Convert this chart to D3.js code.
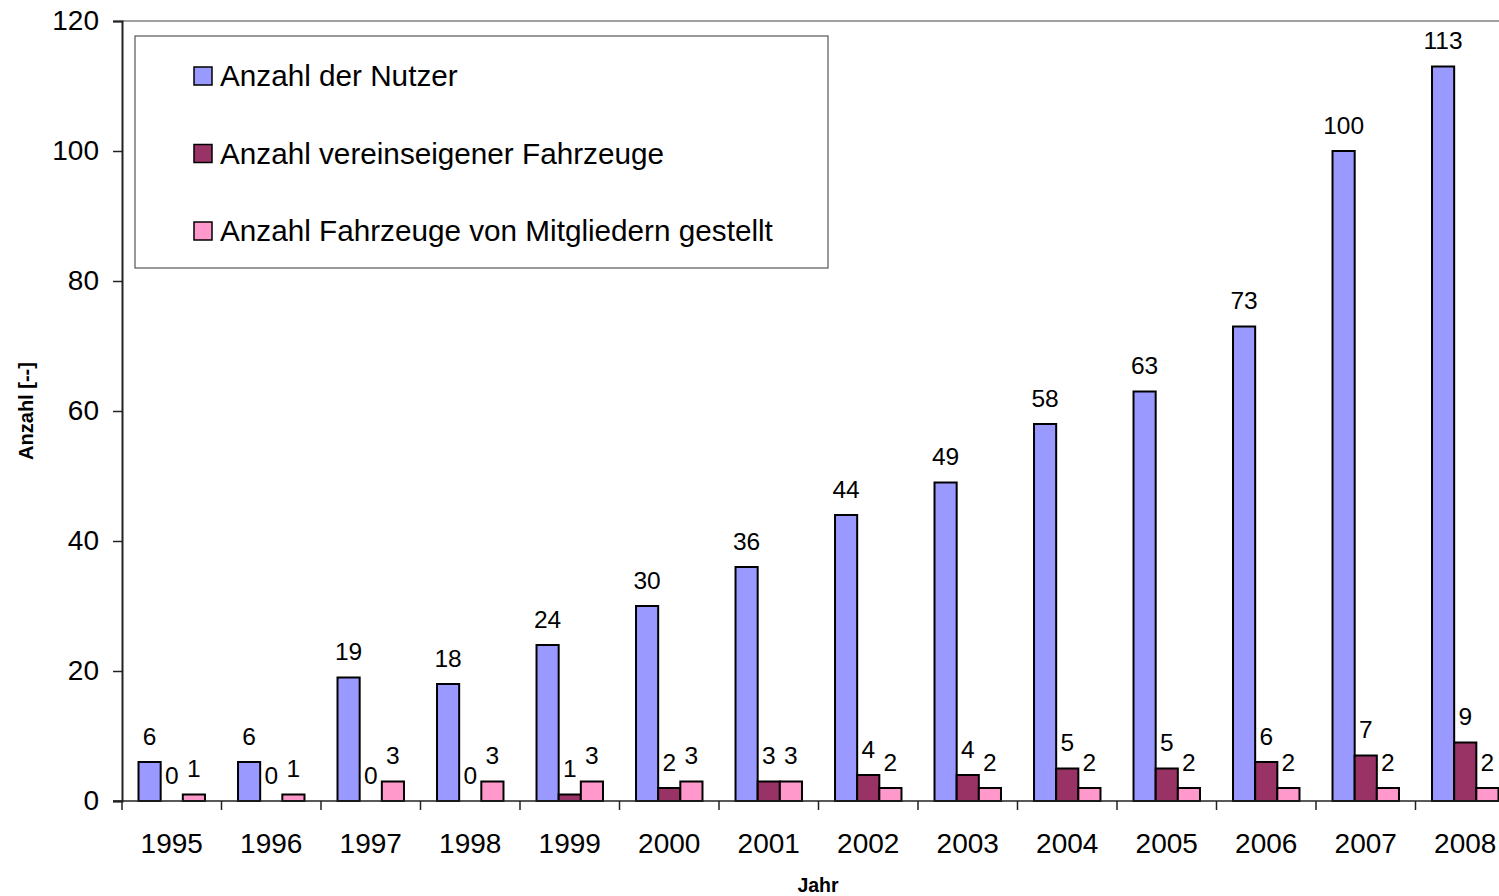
<!DOCTYPE html>
<html>
<head>
<meta charset="utf-8">
<script src="https://cdn.jsdelivr.net/npm/d3@7"></script>
<style>
  body { margin: 0; background: #fff; }
  svg { display: block; font-family: Arial, "Liberation Sans", sans-serif; }
</style>
</head>
<body>
<div id="chart"></div>
<script>
// data
var years = ['1995','1996','1997','1998','1999','2000','2001','2002','2003','2004','2005','2006','2007','2008'];
var nutzer = [6, 6, 19, 18, 24, 30, 36, 44, 49, 58, 63, 73, 100, 113];
var vereinsFahrzeuge = [0, 0, 0, 0, 1, 2, 3, 4, 4, 5, 5, 6, 7, 9];
var mitgliederFahrzeuge = [1, 1, 3, 3, 3, 3, 3, 2, 2, 2, 2, 2, 2, 2];
var seriesNames = ['Anzahl der Nutzer', 'Anzahl vereinseigener Fahrzeuge', 'Anzahl Fahrzeuge von Mitgliedern gestellt'];
var seriesColors = ['#9999FF', '#993366', '#FF99CC'];
var yTicks = [0, 20, 40, 60, 80, 100, 120];

var width = 1499, height = 896;
// plot area (runs a bit past the window on the right, like the original)
var plotLeft = 122, plotTop = 21, plotBottom = 801, plotRight = 1515;

var svg = d3.select('#chart').append('svg')
  .attr('width', width)
  .attr('height', height);

var series = [nutzer, vereinsFahrzeuge, mitgliederFahrzeuge];

// scales
var x0 = d3.scaleBand()
  .domain(years)
  .range([plotLeft, plotRight])
  .paddingInner(0.332)
  .paddingOuter(0.166);

var x1 = d3.scaleBand()
  .domain([0, 1, 2])
  .range([0, x0.bandwidth()]);

var y = d3.scaleLinear()
  .domain([0, 120])
  .range([plotBottom, plotTop]);

// top border of plot area
svg.append('line')
  .attr('x1', plotLeft).attr('x2', width)
  .attr('y1', y(120)).attr('y2', y(120))
  .attr('stroke', '#808080').attr('stroke-width', 1.5);

// bars
var groups = svg.append('g').selectAll('g')
  .data(years)
  .enter()
  .append('g')
  .attr('transform', function(d){ return 'translate(' + x0(d) + ',0)'; });

groups.selectAll('rect')
  .data(function(d, i){ return series.map(function(s, k){ return {k: k, v: s[i]}; }); })
  .enter()
  .append('rect')
  .attr('x', function(d){ return x1(d.k); })
  .attr('y', function(d){ return y(d.v); })
  .attr('width', x1.bandwidth())
  .attr('height', function(d){ return y(0) - y(d.v); })
  .attr('fill', function(d){ return seriesColors[d.k]; })
  .attr('stroke', '#000')
  .attr('stroke-width', 2);

// value labels
groups.selectAll('text')
  .data(function(d, i){ return series.map(function(s, k){ return {k: k, v: s[i]}; }); })
  .enter()
  .append('text')
  .attr('x', function(d){ return x1(d.k) + x1.bandwidth() / 2; })
  .attr('y', function(d){ return y(d.v) - 17.5; })
  .attr('text-anchor', 'middle')
  .attr('font-size', 24.5)
  .attr('fill', '#000')
  .text(function(d){ return d.v; });

// y axis
var yAxis = svg.append('g')
  .attr('transform', 'translate(' + plotLeft + ',0)')
  .call(d3.axisLeft(y).tickValues(yTicks).tickSize(9).tickPadding(14));
yAxis.select('.domain').attr('stroke', '#222').attr('stroke-width', 2);
yAxis.selectAll('.tick line').attr('stroke', '#222').attr('stroke-width', 1.5);
yAxis.selectAll('.tick text')
  .attr('font-size', 28)
  .attr('font-family', 'Arial, "Liberation Sans", sans-serif')
  .attr('fill', '#000');

// x axis
var xAxis = svg.append('g')
  .attr('transform', 'translate(0,' + plotBottom + ')');
xAxis.append('line')
  .attr('x1', plotLeft - 9).attr('x2', width)
  .attr('y1', 0).attr('y2', 0)
  .attr('stroke', '#222').attr('stroke-width', 1.5);
xAxis.selectAll('line.tick')
  .data(years)
  .enter()
  .append('line')
  .attr('class', 'tick')
  .attr('x1', function(d){ return x0(d) - x0.step() * x0.paddingOuter(); })
  .attr('x2', function(d){ return x0(d) - x0.step() * x0.paddingOuter(); })
  .attr('y1', 0).attr('y2', 9)
  .attr('stroke', '#222').attr('stroke-width', 1.5);
xAxis.selectAll('text')
  .data(years)
  .enter()
  .append('text')
  .attr('x', function(d){ return x0(d) + x0.bandwidth() / 2; })
  .attr('y', 52)
  .attr('text-anchor', 'middle')
  .attr('font-size', 28)
  .attr('fill', '#000')
  .text(function(d){ return d; });

// axis titles
svg.append('text')
  .attr('x', 818).attr('y', 892)
  .attr('text-anchor', 'middle')
  .attr('font-size', 19.5)
  .attr('font-weight', 'bold')
  .text('Jahr');

svg.append('text')
  .attr('transform', 'translate(33,411) rotate(-90)')
  .attr('text-anchor', 'middle')
  .attr('font-size', 20)
  .attr('font-weight', 'bold')
  .text('Anzahl [--]');

// legend
var legend = svg.append('g');
legend.append('rect')
  .attr('x', 135).attr('y', 36)
  .attr('width', 693).attr('height', 232)
  .attr('fill', '#fff')
  .attr('stroke', '#555')
  .attr('stroke-width', 1.2);

var items = legend.selectAll('g.item')
  .data(seriesNames)
  .enter()
  .append('g')
  .attr('class', 'item')
  .attr('transform', function(d, i){ return 'translate(194,' + (76 + i * 77.5) + ')'; });

items.append('rect')
  .attr('x', 0).attr('y', -9)
  .attr('width', 18).attr('height', 18)
  .attr('fill', function(d, i){ return seriesColors[i]; })
  .attr('stroke', '#000')
  .attr('stroke-width', 1.5);

items.append('text')
  .attr('x', 26).attr('y', 10)
  .attr('font-size', 29.7)
  .attr('fill', '#000')
  .text(function(d){ return d; });
</script>
</body>
</html>
